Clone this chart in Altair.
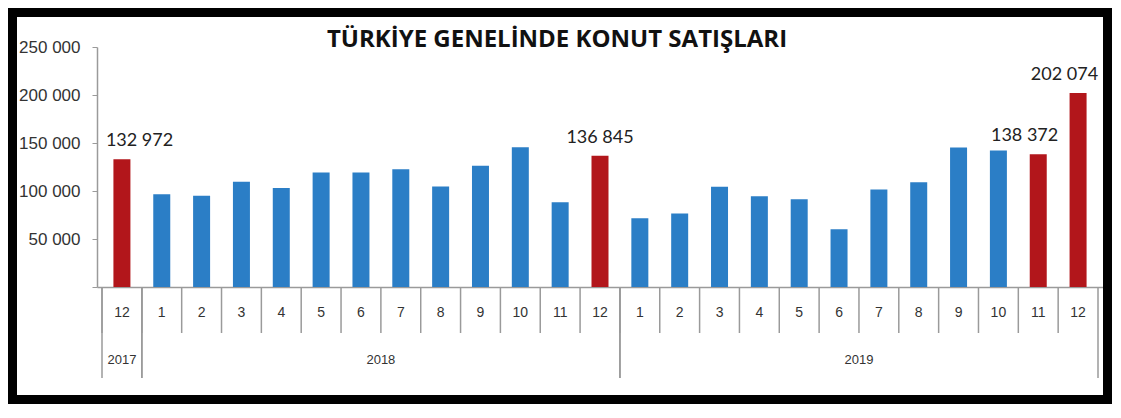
import altair as alt
import pandas as pd

title_text = "TÜRKİYE GENELİNDE KONUT SATIŞLARI"
years = [2017] + [2018] * 12 + [2019] * 12
months = [12] + list(range(1, 13)) + list(range(1, 13))
sales = [132972,
         96700, 95100, 109700, 103000, 119300, 119300, 122700, 104700, 126200, 145600, 88300, 136845,
         71700, 76600, 104300, 94600, 91500, 60200, 101600, 109200, 145300, 142200, 138372, 202074]
highlighted = [(2017, 12), (2018, 12), (2019, 11), (2019, 12)]
y_ticks = [0, 50000, 100000, 150000, 200000, 250000]

df = pd.DataFrame({"idx": list(range(len(sales))), "year": years, "month": months, "sales": sales})
df["kind"] = ["hl" if (y, m) in highlighted else "normal" for y, m in zip(years, months)]
df["label"] = [f"{v:,}".replace(",", " ") for v in sales]

W, H = 1006, 240
N = len(sales)
GRAY = "#9a9a9a"
xscale = alt.Scale(domain=[-0.5, N - 0.5], nice=False, zero=False)
base = alt.Chart(df)

bars = base.mark_bar(width=17).encode(
    x=alt.X("idx:Q", scale=xscale,
            axis=alt.Axis(labels=False, ticks=False, grid=False, title=None,
                          domainColor=GRAY, domainWidth=1.5)),
    y=alt.Y("sales:Q", scale=alt.Scale(domain=[0, 250000], nice=False),
            axis=alt.Axis(values=y_ticks, grid=False, title=None,
                          labelExpr="datum.value == 0 ? '' : replace(format(datum.value, ','), ',', ' ')",
                          labelFont="Liberation Sans", labelFontSize=17, labelColor="#333",
                          tickSize=5, tickColor=GRAY, domainColor=GRAY, domainWidth=1.5,
                          labelPadding=12)),
    color=alt.Color("kind:N", scale=alt.Scale(domain=["hl", "normal"], range=["#b2161b", "#2b7ec6"]),
                    legend=None),
)

hl = base.transform_filter(alt.datum.kind == "hl")
lbl_style = dict(dy=-13, baseline="alphabetic", font="Lato", fontSize=18, color="#222")
enc = dict(x="idx:Q", y="sales:Q", text="label:N")
values_first = hl.transform_filter(alt.datum.idx == 0).mark_text(align="left", dx=-16, **lbl_style).encode(**enc)
values_mid = hl.transform_filter((alt.datum.idx > 0) & (alt.datum.idx < N - 2)).mark_text(
    align="center", **lbl_style).encode(**enc)
values_last = hl.transform_filter(alt.datum.idx >= N - 2).mark_text(align="right", dx=20, **lbl_style).encode(**enc)

month_sep = base.transform_calculate(sep="datum.idx - 0.5").mark_rule(
    color=GRAY, strokeWidth=1.5
).encode(x="sep:Q", y=alt.value(H), y2=alt.value(H + 46))

month_txt = base.mark_text(font="Liberation Sans", fontSize=14, color="#333", baseline="middle").encode(
    x="idx:Q", y=alt.value(H + 26), text="month:N")

yr = base.transform_aggregate(start="min(idx)", end="max(idx)", groupby=["year"]).transform_calculate(
    x0="datum.start - 0.5", x1="datum.end + 0.5", xm="(datum.start + datum.end) / 2")

year_sep0 = yr.mark_rule(color=GRAY, strokeWidth=1.5).encode(x="x0:Q", y=alt.value(H), y2=alt.value(H + 91))
year_sep1 = yr.mark_rule(color=GRAY, strokeWidth=1.5).encode(x="x1:Q", y=alt.value(H), y2=alt.value(H + 91))
year_txt = yr.mark_text(font="Liberation Sans", fontSize=13, color="#333", baseline="middle").encode(
    x="xm:Q", y=alt.value(H + 73), text="year:N")

frame = alt.Chart(alt.Data(values=[{"f": 1}])).mark_rect(
    fill="white", fillOpacity=0, stroke="black", strokeWidth=9
).encode(x=alt.value(-84.5), x2=alt.value(W + 4.5), y=alt.value(-34.5), y2=alt.value(H + 112.5))

chart = alt.layer(bars, values_first, values_mid, values_last, month_sep, month_txt,
                  year_sep0, year_sep1, year_txt, frame).properties(
    width=W, height=H,
    title=alt.TitleParams(text=title_text, font="Open Sans", fontSize=24, fontWeight="bold", color="#111",
                          anchor="middle", dx=-43, dy=63, baseline="alphabetic", offset=0),
    autosize=alt.AutoSizeParams(type="none"),
    padding={"left": 89, "top": 39, "right": 9, "bottom": 117},
    background="white",
).configure_view(strokeWidth=0)

chart.save("out.html", embed_options={"renderer": "svg", "actions": False})
